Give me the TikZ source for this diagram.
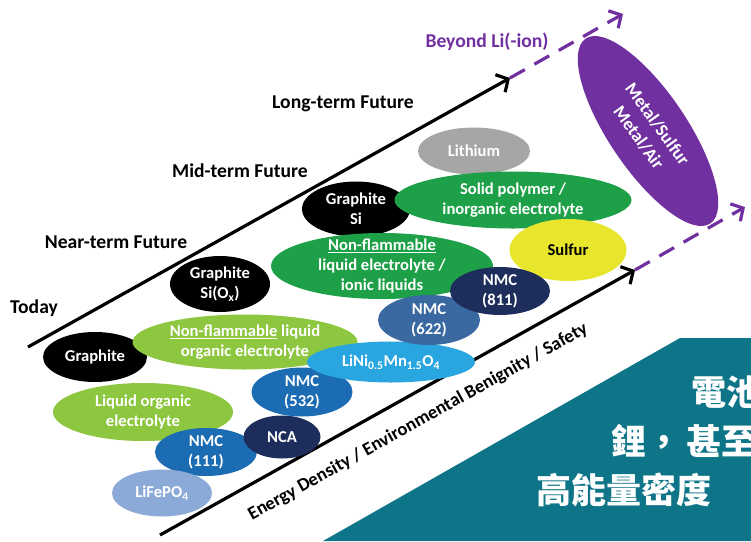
\documentclass[tikz,border=0pt]{standalone}
\usepackage{fontspec}
\setmainfont{Carlito}
\newfontfamily\cjk{Noto Sans CJK TC}
\usetikzlibrary{shapes.geometric,arrows.meta}
\definecolor{cLG}{RGB}{141,198,63}
\definecolor{cG}{RGB}{30,160,72}
\definecolor{cGray}{RGB}{166,166,166}
\definecolor{cYel}{RGB}{232,229,45}
\definecolor{cNavy}{RGB}{29,46,92}
\definecolor{cSteel}{RGB}{58,104,160}
\definecolor{cMid}{RGB}{28,108,180}
\definecolor{cSky}{RGB}{41,165,224}
\definecolor{cPale}{RGB}{140,170,216}
\definecolor{cPurp}{RGB}{112,48,160}
\definecolor{cTeal}{RGB}{14,117,136}
\begin{document}
\begin{tikzpicture}[x=1pt,y=-1pt,
  blob/.style={ellipse, inner sep=0pt, draw=none},
  lbl/.style={inner sep=0pt, font=\bfseries\fontsize{19.6}{22}\selectfont},
  etxt/.style={inner sep=0pt, align=center, text=white, font=\bfseries\fontsize{16.6}{20}\selectfont},
  axisline/.style={line width=3.2pt, -{Straight Barb[length=9pt,width=20pt]}},
  beyond/.style={line width=3.2pt, cPurp, dash pattern=on 17pt off 11pt, -{Straight Barb[length=9pt,width=20pt]}},
  cjktxt/.style={inner sep=0pt, anchor=west, text=white, font=\cjk\bfseries\fontsize{35}{40}\selectfont}
]
\useasboundingbox (0,0) rectangle (751,541);
\fill[white] (0,0) rectangle (751,541);

% axes
\coordinate (u0) at (28,347);
\coordinate (u1) at (510,78);
\coordinate (u2) at (623,14);
\coordinate (l0) at (160,535);
\coordinate (l1) at (635,270);
\coordinate (l2) at (745,207);
\draw[axisline] (u0) -- (u1);
\draw[beyond] (u1) -- (u2);
\draw[axisline] (l0) -- (l1);
\draw[beyond] (l1) -- (l2);

% stage labels
\node[lbl, text=cPurp] (beyondl) at (487,42) {Beyond Li(-ion)};
\node[lbl] (longl) at (343,104) {Long-term Future};
\node[lbl] (midl) at (240,171) {Mid-term Future};
\node[lbl] (nearl) at (116,242) {Near-term Future};
\node[lbl] (todayl) at (34,308) {Today};
\node[lbl, rotate=29.2, font=\bfseries\fontsize{18.6}{22}\selectfont] (axisl) at (418,422) {Energy Density / Environmental Benignity / Safety};

% ellipses
\node[blob, fill=black, minimum width=104pt, minimum height=50pt] (e1) at (95,357) {};
\node[etxt] (t1) at (e1) {Graphite};
\node[blob, fill=black, minimum width=100pt, minimum height=56pt] (e2) at (220,284) {};
\node[etxt] (t2) at (e2) {Graphite\\Si(O\textsubscript{x})};
\node[blob, fill=cLG, minimum width=225pt, minimum height=55pt] (e3) at (245,342) {};
\node[etxt] (t3) at (e3) {\underline{Non-flammable} liquid\\organic electrolyte};
\node[blob, fill=cLG, minimum width=180pt, minimum height=58pt] (e4) at (143,412) {};
\node[etxt] (t4) at (e4) {Liquid organic\\electrolyte};
\node[blob, fill=cMid, minimum width=102pt, minimum height=48pt] (e5) at (206,452) {};
\node[etxt] (t5) at (e5) {NMC\\(111)};
\node[blob, fill=cPale, minimum width=100pt, minimum height=47pt] (e6) at (162,493) {};
\node[etxt] (t6) at (e6) {LiFePO\textsubscript{4}};
\node[blob, fill=cNavy, minimum width=77pt, minimum height=43pt] (e7) at (282,437) {};
\node[etxt] (t7) at (e7) {NCA};
\node[blob, fill=cMid, minimum width=101pt, minimum height=49pt] (e9) at (302,392) {};
\node[etxt] (t9) at (e9) {NMC\\(532)};
\node[blob, fill=cSky, minimum width=168pt, minimum height=41pt] (e8) at (391,362) {};
\node[etxt] (t8) at (e8) {LiNi\textsubscript{0.5}Mn\textsubscript{1.5}O\textsubscript{4}};
\node[blob, fill=black, minimum width=108pt, minimum height=55pt] (e10) at (356,209) {};
\node[etxt] (t10) at (e10) {Graphite\\Si};
\node[blob, fill=cG, minimum width=222pt, minimum height=66pt] (e11) at (382,266) {};
\node[etxt] (t11) at (e11) {\underline{Non-flammable}\\liquid electrolyte /\\ionic liquids};
\node[blob, fill=cGray, minimum width=112pt, minimum height=47pt] (e12) at (474,151) {};
\node[etxt] (t12) at (e12) {Lithium};
\node[blob, fill=cG, minimum width=237pt, minimum height=57pt] (e13) at (513,200) {};
\node[etxt] (t13) at (e13) {Solid polymer /\\inorganic electrolyte};
\node[blob, fill=cYel, minimum width=117pt, minimum height=62pt] (e14) at (568,250) {};
\node[etxt, text=black] (t14) at (e14) {Sulfur};
\node[blob, fill=cSteel, minimum width=102pt, minimum height=50pt] (e16) at (429,320) {};
\node[etxt] (t16) at (e16) {NMC\\(622)};
\node[blob, fill=cNavy, minimum width=100pt, minimum height=48pt] (e15) at (500,291) {};
\node[etxt] (t15) at (e15) {NMC\\(811)};
\node[blob, fill=cPurp, minimum width=223pt, minimum height=78pt, rotate=-56] (e17) at (648,131) {};
\node[etxt, rotate=-54, font=\bfseries\fontsize{18}{23}\selectfont] (t17) at (e17) {Metal/Sulfur\\Metal/Air};

% overlay banner
\begin{scope}
\clip (0,0) rectangle (751,541);
\fill[cTeal] (323,541) -- (680,338) -- (751,338) -- (751,541) -- cycle;
\node[cjktxt] (c1) at (691,392) {電池};
\node[cjktxt] (c2) at (611,441) {鋰，\kern5pt 甚至};
\node[cjktxt] (c3) at (536,490) {高能量密度};
\end{scope}
\end{tikzpicture}
\end{document}
